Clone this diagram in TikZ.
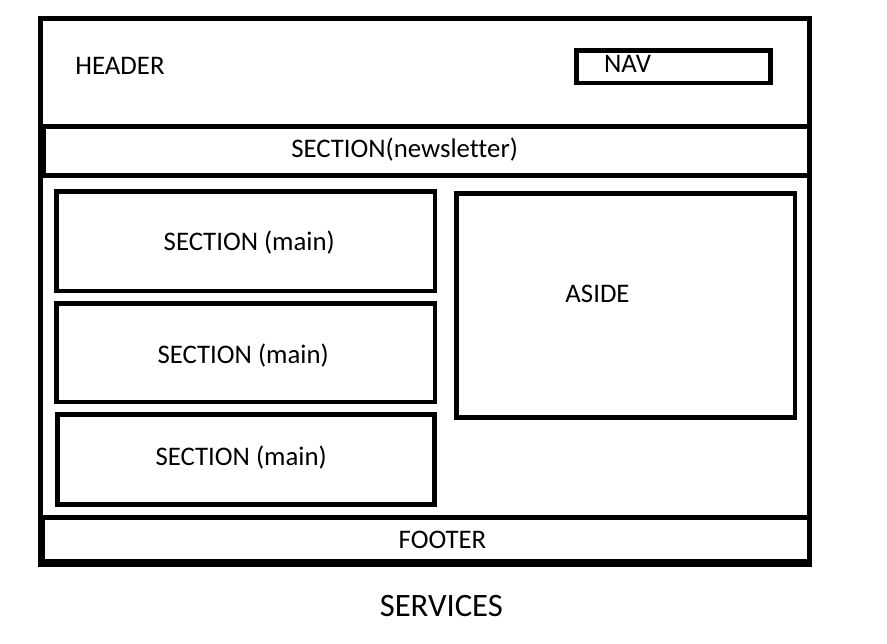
\documentclass[tikz,border=0pt]{standalone}
\usepackage{fontspec}
\setmainfont[Ligatures={NoCommon}]{Carlito}
\usetikzlibrary{fit}
\begin{document}
\begin{tikzpicture}[x=0.75pt,y=-0.75pt,
  box/.style={draw=black,line width=3.4pt,inner sep=0pt,outer sep=0pt,fill=none},
  lbl/.style={anchor=base,inner sep=0pt,font=\fontsize{20.1pt}{24pt}\selectfont},
  big/.style={anchor=base,inner sep=0pt,font=\fontsize{24.5pt}{29pt}\selectfont}]
\useasboundingbox[fill=white] (0,0) rectangle (887,643);
% frame parts
\node[box,fit={(40.5,18.3) (809.7,564.5)}] (frame) {};
\node[box,fit={(40.5,18.3) (809.7,126.7)}] (header) {};
\node[box,fit={(43.8,126.7) (810,175.5)}] (newsletter) {};
\node[box,fit={(40.5,175.5) (810,517.7)}] (content) {};
\node[box,fit={(42.3,517.7) (809.7,561.3)}] (footer) {};
\node[box,fit={(576.7,50.7) (770.3,83)}] (nav) {};
\node[box,fit={(56.5,191.7) (435.2,291)}] (main1) {};
\node[box,fit={(56.5,303.5) (435.2,401.8)}] (main2) {};
\node[box,fit={(57.5,414.3) (434.3,504.5)}] (main3) {};
\node[box,fit={(456.5,193.5) (795.2,417.3)}] (aside) {};
% labels
\node[lbl] (theader) at (120,74) {HEADER};
\node[lbl] (tnav) at (627.5,72.7) {NAV};
\node[lbl] (tnews) at (404.7,157.3) {SECTION(newsletter)};
\node[lbl] (tmain1) at (249.3,250) {SECTION (main)};
\node[lbl] (tmain2) at (243.2,363.3) {SECTION (main)};
\node[lbl] (tmain3) at (241.2,465.7) {SECTION (main)};
\node[lbl] (taside) at (597.5,302.7) {ASIDE};
\node[lbl] (tfooter) at (442.5,548) {FOOTER};
\node[big] (tservices) at (441.3,616.7) {SERVICES};
\end{tikzpicture}
\end{document}
